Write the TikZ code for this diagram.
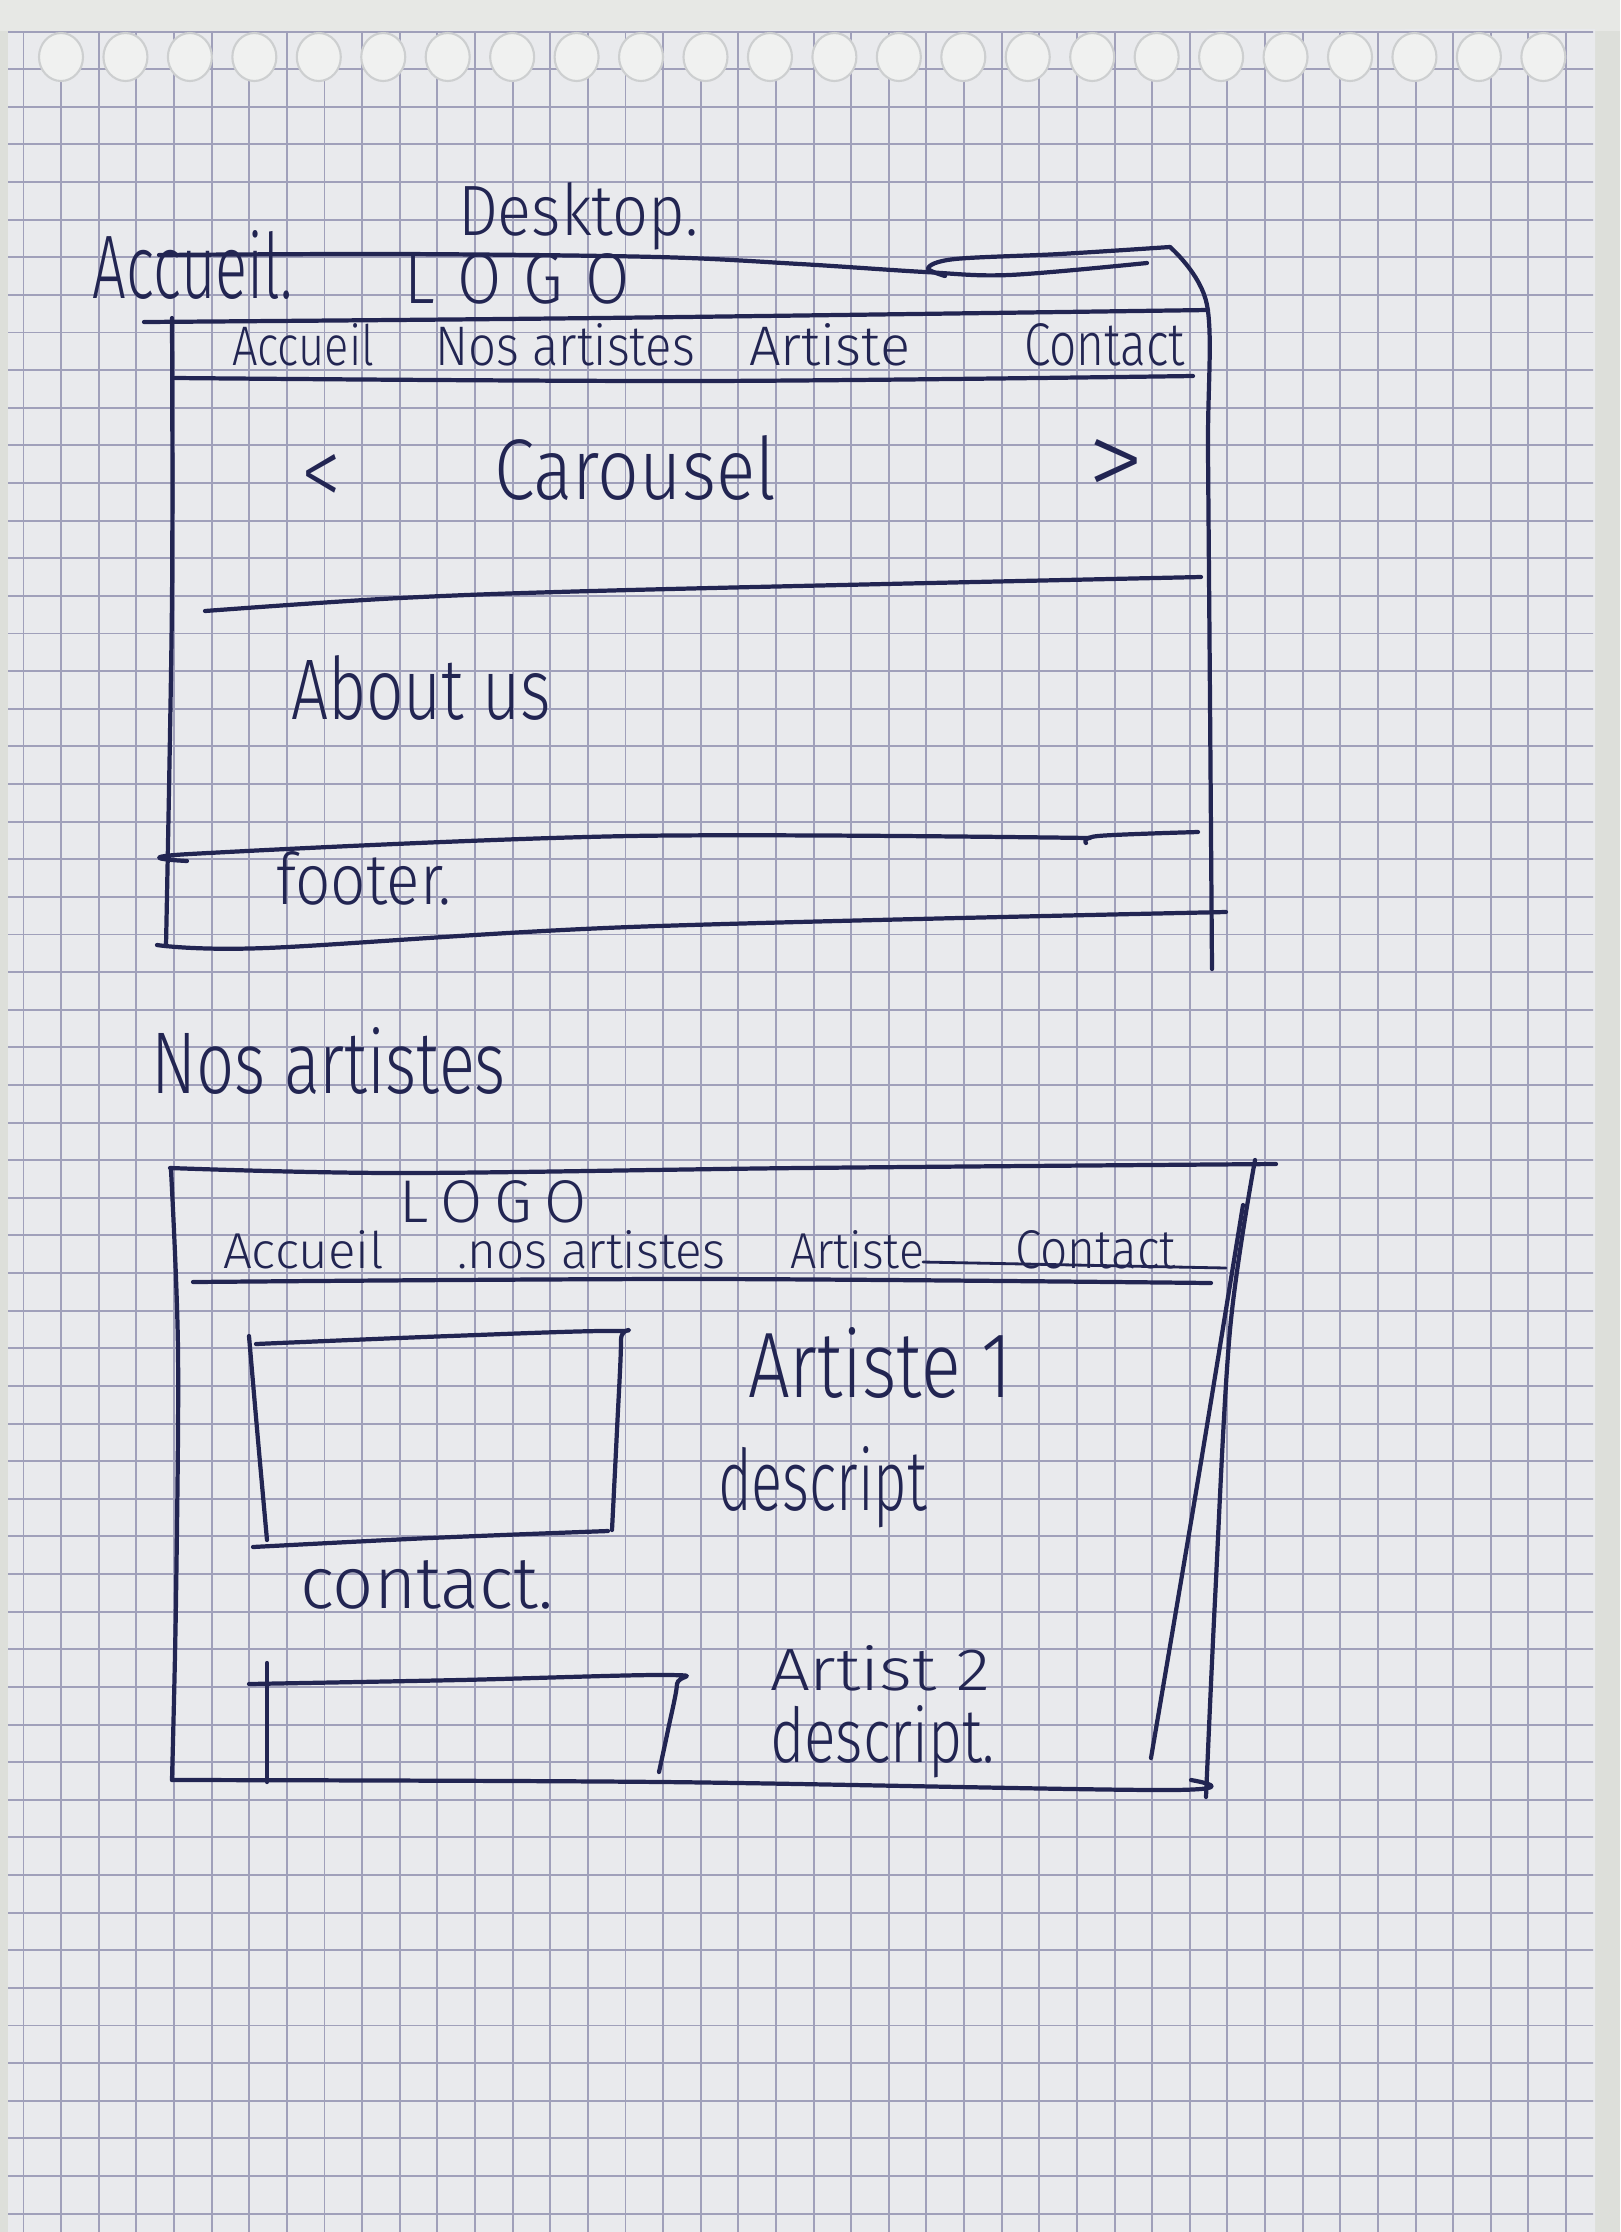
\documentclass[tikz,border=0pt]{standalone}
\usepackage{fontspec}
\IfFontExistsTF{Fira Sans Light}{\setmainfont{Fira Sans Light}}{\setmainfont{Lato}}
\usepackage{graphicx}
\newlength\pxu
\setlength\pxu{0.01cm}
% handwritten word squeezed into a given width and height (in px units)
\newcommand\hand[3]{\resizebox{#1\pxu}{#2\pxu}{#3}}

\definecolor{paper}{RGB}{233,234,237}
\definecolor{desk}{RGB}{221,223,218}
\definecolor{topstrip}{RGB}{231,232,229}
\definecolor{holec}{RGB}{240,241,240}
\definecolor{holeedge}{RGB}{205,207,208}
\definecolor{gridc}{RGB}{160,160,186}
\definecolor{ink}{RGB}{34,37,82}

\begin{document}
\begin{tikzpicture}[x=0.01cm,y=-0.01cm,
  ink/.style={draw=ink, line width=1.2pt, line cap=round, line join=round},
  word/.style={anchor=base west, inner sep=0pt, outer sep=0pt, text=ink},
  gridline/.style={draw=gridc, line width=0.55pt},
  hand path/.style={smooth, tension=0.55}]

% desk and sheet
\fill[desk] (0,0) rectangle (1620,2232);
\useasboundingbox (0,0) rectangle (1620,2232);
\fill[topstrip] (0,0) rectangle (1620,31);
\fill[paper] (8,31) -- (1595,29) -- (1595,2232) -- (8,2232) -- cycle;

% squared ruling, 3.76 mm squares
\begin{scope}
  \clip (8,30) rectangle (1593,2232);
  \draw[gridline, xshift=0.235cm, yshift=-0.691cm, step=0.376cm]
    (-0.376cm,0.376cm) grid (15.8cm,-21.8cm);
\end{scope}

% torn spiral holes
\foreach \h in {0,...,23}
  \filldraw[fill=holec, draw=holeedge, line width=0.6pt]
    ({61+64.45*\h},57) ellipse [x radius=22, y radius=24];

% ---------- Desktop page ----------
\node[word] (desktop) at (458,235) {\hand{240}{53}{Desktop.}};
\node[word] (home) at (93,298) {\hand{200}{68}{Accueil.}};
\node[word] (logoA) at (404,303) {\hand{226}{50}{L\hspace{0.35em}O\hspace{0.35em}G\hspace{0.35em}O}};

\node[word] (navAa) at (232,365) {\hand{142}{42}{Accueil}};
\node[word] (navAb) at (435,365) {\hand{260}{42}{Nos artistes}};
\node[word] (navAc) at (749,365) {\hand{161}{42}{Artiste}};
\node[word] (navAd) at (1024,365) {\hand{161}{42}{Contact}};

\node[word] (prev) at (301,506) {\hand{40}{52}{<}};
\node[word] (carousel) at (494,499) {\hand{282}{64}{Carousel}};
\node[word] (next) at (1087,497) {\hand{57}{58}{>}};

\node[word] (about) at (291,719) {\hand{260}{64}{About us}};
\node[word] (footer) at (276,904) {\hand{175}{53}{footer.}};

% frame of the desktop page
\draw[ink] plot[hand path] coordinates {(159,255) (400,254) (657,257) (800,264) (925,272) (1009,275) (1147,263)};
\draw[ink] plot[hand path] coordinates {(945,276) (928,268) (955,259) (1060,254) (1170,247)};
\draw[ink] plot[hand path] coordinates {(1170,247) (1207,305) (1208,450) (1210,700) (1212,969)};
\draw[ink] plot[hand path] coordinates {(144,322) (600,318) (1208,310)};
\draw[ink] plot[hand path] coordinates {(175,378) (700,381) (1193,376)};
\draw[ink] plot[hand path] coordinates {(172,318) (172,600) (166,946)};
\draw[ink] plot[hand path] coordinates {(205,611) (400,598) (630,590) (1201,577)};
\draw[ink] plot[hand path] coordinates {(187,861) (190,854) (630,836) (1090,838)};
\draw[ink] plot[hand path] coordinates {(1086,843) (1098,836) (1198,832)};
\draw[ink] plot[hand path] coordinates {(157,945) (266,948) (630,927) (1226,912)};

% ---------- Nos artistes page ----------
\node[word] (title) at (151,1093) {\hand{355}{66}{Nos artistes}};
\node[word] (logoB) at (399,1222) {\hand{188}{42}{L\hspace{0.2em}O\hspace{0.2em}G\hspace{0.2em}O}};

\node[word] (navBa) at (223,1268) {\hand{161}{38}{Accueil}};
\node[word] (navBb) at (457,1268) {\hand{268}{38}{.nos artistes}};
\node[word] (navBc) at (790,1268) {\hand{134}{38}{Artiste}};
\node[word] (navBd) at (1015,1268) {\hand{161}{38}{Contact}};

\node[word] (artA) at (748,1397) {\hand{264}{70}{Artiste 1}};
\node[word] (descA) at (718,1510) {\hand{209}{64}{descript}};
\node[word] (contact) at (300,1608) {\hand{253}{48}{contact.}};
\node[word] (artB) at (770,1690) {\hand{220}{45}{Artist 2}};
\node[word] (descB) at (770,1762) {\hand{225}{57}{descript.}};

% frame of the artists page
\draw[ink] plot[hand path] coordinates {(170,1168) (400,1173) (800,1168) (1276,1164)};
\draw[ink] plot[hand path] coordinates {(171,1170) (178,1350) (176,1600) (172,1780)};
\draw[ink] plot[hand path] coordinates {(1255,1160) (1230,1330) (1215,1600) (1206,1797)};
\draw[ink] plot[hand path] coordinates {(1243,1205) (1198,1480) (1151,1758)};
\draw[ink] plot[hand path] coordinates {(172,1780) (663,1782) (1169,1790) (1191,1780)};
\draw[ink] plot[hand path] coordinates {(193,1282) (700,1279) (1211,1283)};
\draw[ink, line width=0.8pt] plot[hand path] coordinates {(923,1262) (1226,1268)};

% picture placeholders
\draw[ink] plot[hand path] coordinates {(256,1344) (450,1336) (616,1331) (621,1340) (617,1430) (612,1530)};
\draw[ink] plot[hand path] coordinates {(249,1336) (258,1440) (267,1540)};
\draw[ink] plot[hand path] coordinates {(253,1547) (430,1538) (608,1531)};
\draw[ink] plot[hand path] coordinates {(249,1684) (460,1680) (670,1675) (677,1684) (668,1730) (659,1772)};
\draw[ink] plot[hand path] coordinates {(267,1663) (267,1782)};
\end{tikzpicture}
\end{document}
